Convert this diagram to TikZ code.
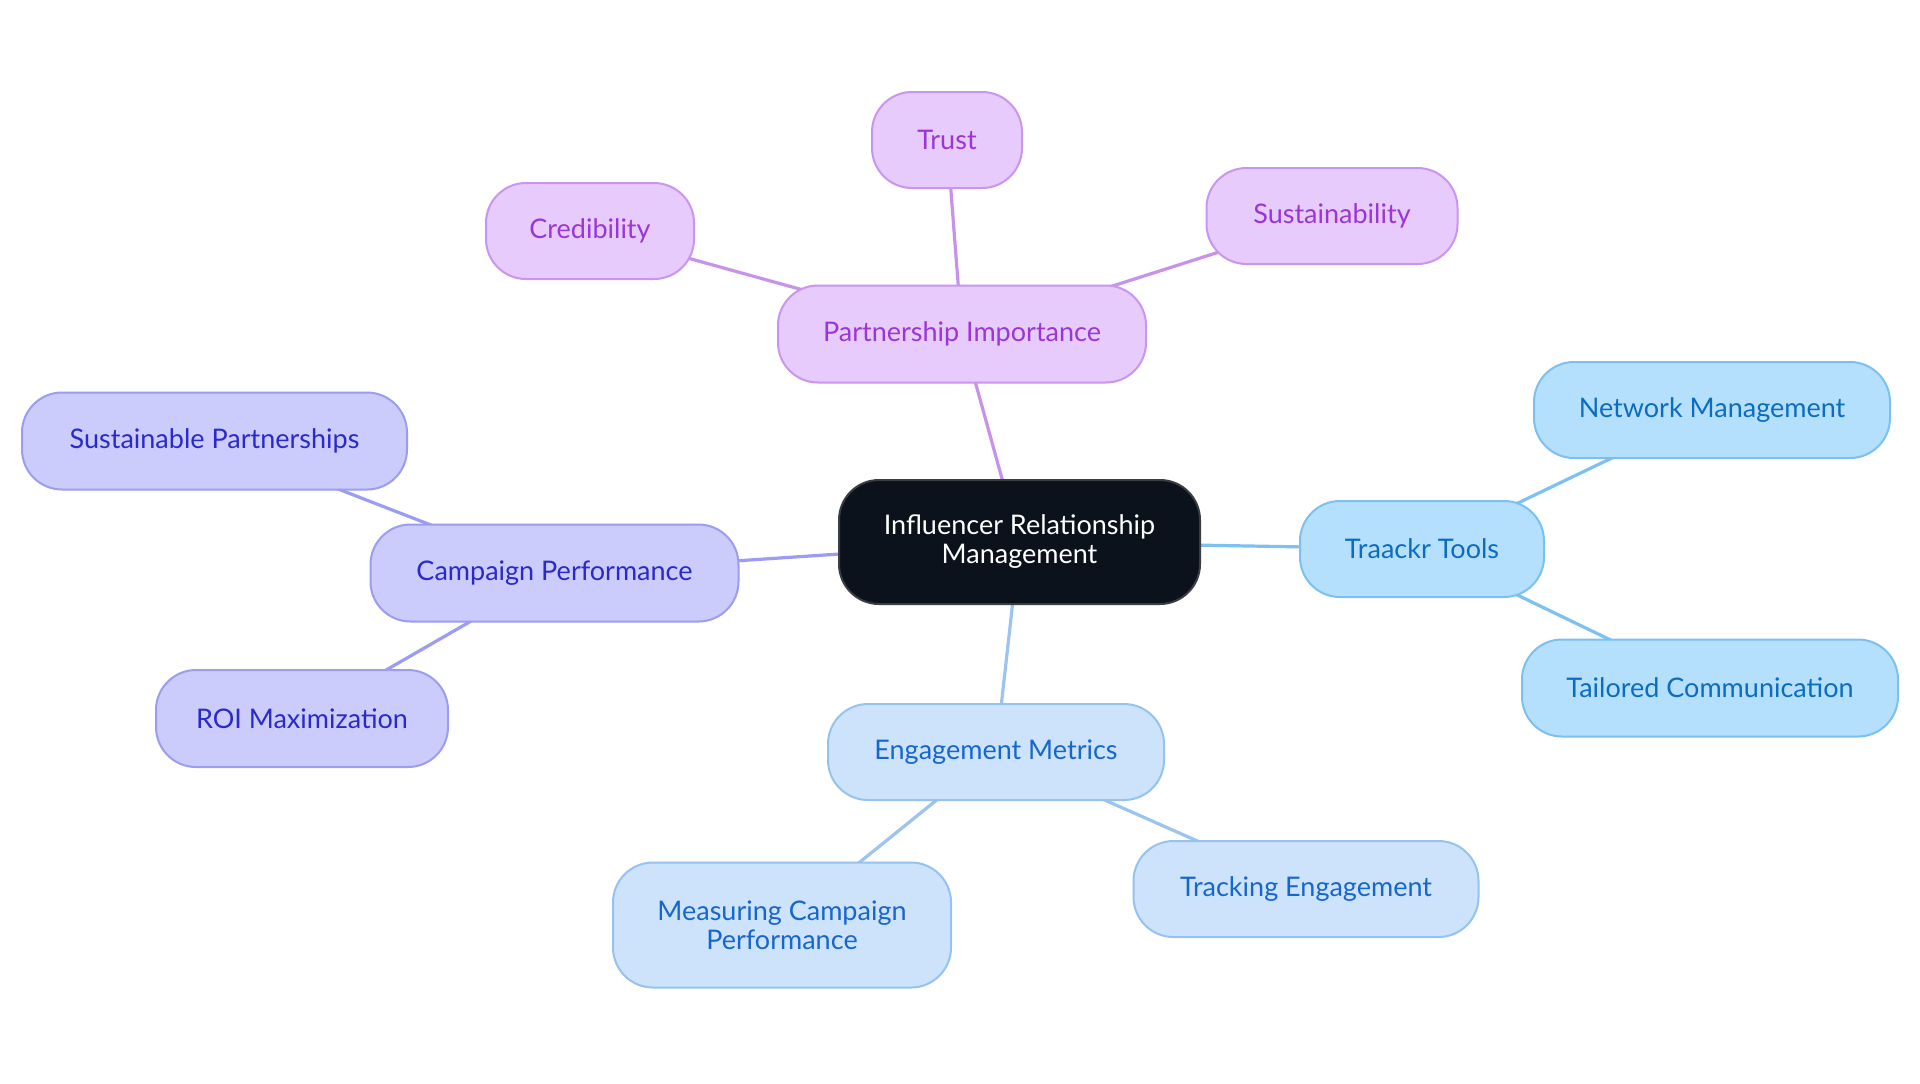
\documentclass[tikz,border=0pt]{standalone}
\usepackage{fontspec}
\setmainfont{Lato}
\usetikzlibrary{backgrounds}
\definecolor{purFill}{HTML}{E8CBFD}
\definecolor{purDraw}{HTML}{C995EE}
\definecolor{purText}{HTML}{9A36D8}
\definecolor{purEdge}{HTML}{C792EA}
\definecolor{indFill}{HTML}{CBCBFC}
\definecolor{indDraw}{HTML}{9C9CF0}
\definecolor{indText}{HTML}{2A2ACB}
\definecolor{indEdge}{HTML}{9C9CF2}
\definecolor{skyFill}{HTML}{B5E0FD}
\definecolor{skyDraw}{HTML}{7CC0F0}
\definecolor{skyText}{HTML}{0B6CC0}
\definecolor{skyEdge}{HTML}{7DC1F0}
\definecolor{engFill}{HTML}{CDE3FB}
\definecolor{engDraw}{HTML}{96C2F0}
\definecolor{engText}{HTML}{1766CC}
\definecolor{engEdge}{HTML}{9CC4EE}
\definecolor{rootFill}{HTML}{0B121B}
\definecolor{rootDraw}{HTML}{3A3D42}
\tikzset{
  box/.style={rounded corners=20pt, line width=1pt, inner sep=0pt, align=center,
    font=\fontsize{13.5}{14.5}\selectfont},
  purbox/.style={box, fill=purFill, draw=purDraw, text=purText},
  indbox/.style={box, fill=indFill, draw=indDraw, text=indText},
  skybox/.style={box, fill=skyFill, draw=skyDraw, text=skyText},
  engbox/.style={box, fill=engFill, draw=engDraw, text=engText},
  rootbox/.style={box, fill=rootFill, draw=rootDraw, text=white},
  link/.style={line width=1.6pt},
}
\begin{document}
\begin{tikzpicture}[x=0.5pt,y=-0.5pt]
\useasboundingbox (0,0) rectangle (1920,1083);
\node[rootbox, minimum width=180.5pt, minimum height=62pt] (root) at (1019.5,542) {Influencer Relationship\\Management};
\node[purbox, minimum width=184pt, minimum height=48.5pt] (part) at (962,334) {Partnership Importance};
\node[purbox, minimum width=75pt, minimum height=48pt] (trust) at (947,140) {Trust};
\node[purbox, minimum width=104pt, minimum height=48pt] (cred) at (590,231) {Credibility};
\node[purbox, minimum width=125.5pt, minimum height=48pt] (sust) at (1332,216) {Sustainability};
\node[skybox, minimum width=122pt, minimum height=48pt] (traackr) at (1422,549) {Traackr Tools};
\node[skybox, minimum width=178pt, minimum height=48pt] (network) at (1712,410) {Network Management};
\node[skybox, minimum width=188pt, minimum height=48.5pt] (tailored) at (1710,688) {Tailored Communication};
\node[engbox, minimum width=168pt, minimum height=48pt] (engage) at (996,752) {Engagement Metrics};
\node[engbox, minimum width=169pt, minimum height=62.5pt] (measure) at (782,925) {Measuring Campaign\\Performance};
\node[engbox, minimum width=172.5pt, minimum height=48pt] (tracking) at (1306,889) {Tracking Engagement};
\node[indbox, minimum width=184pt, minimum height=48.5pt] (campaign) at (554.5,573) {Campaign Performance};
\node[indbox, minimum width=192.5pt, minimum height=48.5pt] (sustpart) at (214.5,441) {Sustainable Partnerships};
\node[indbox, minimum width=146pt, minimum height=48.5pt] (roi) at (302,718.5) {ROI Maximization};
\begin{scope}[on background layer]
\fill[white] (0,0) rectangle (1920,1083);
\draw[link, purEdge] (root.center) -- (part.center);
\draw[link, purEdge] (part.center) -- (trust.center);
\draw[link, purEdge] (part.center) -- (cred.center);
\draw[link, purEdge] (part.center) -- (sust.center);
\draw[link, skyEdge] (root.center) -- (traackr.center);
\draw[link, skyEdge] (traackr.center) -- (network.center);
\draw[link, skyEdge] (traackr.center) -- (tailored.center);
\draw[link, engEdge] (root.center) -- (engage.center);
\draw[link, engEdge] (engage.center) -- (measure.center);
\draw[link, engEdge] (engage.center) -- (tracking.center);
\draw[link, indEdge] (root.center) -- (campaign.center);
\draw[link, indEdge] (campaign.center) -- (sustpart.center);
\draw[link, indEdge] (campaign.center) -- (roi.center);
\end{scope}
\end{tikzpicture}
\end{document}
